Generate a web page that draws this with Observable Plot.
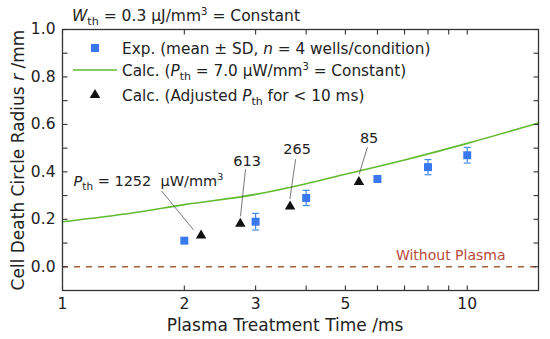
<!DOCTYPE html>
<html><head><meta charset="utf-8">
<script src="https://cdn.jsdelivr.net/npm/d3@7"></script>
<script src="https://cdn.jsdelivr.net/npm/@observablehq/plot@0.6"></script>
<style>
body{margin:0;background:#fff;}
#chart{width:550px;height:339px;}
</style></head><body><div id="chart"></div>
<script>
// ---- data ----
const expTime = [2, 3, 4, 6, 8, 10];
const expMean = [0.11, 0.19, 0.29, 0.37, 0.42, 0.47];
const expSD   = [0.008, 0.035, 0.032, 0.012, 0.032, 0.033];
const calcTime = [1, 1.5, 2, 3, 4, 5, 7, 10, 15];
const calcR    = [0.19, 0.228, 0.262, 0.305, 0.35, 0.39, 0.45, 0.52, 0.606];
const adjTime = [2.2, 2.75, 3.65, 5.4];
const adjR    = [0.132, 0.181, 0.254, 0.357];
const adjP    = ["1252", "613", "265", "85"];
const xTicks  = [1, 2, 3, 4, 5, 6, 7, 8, 9, 10];
const xLabels = [1, 2, 3, 5, 10];
const yTicks  = [0, 0.1, 0.2, 0.3, 0.4, 0.5, 0.6, 0.7, 0.8, 0.9, 1.0];
const yLabels = [0, 0.2, 0.4, 0.6, 0.8, 1.0];
const baselineLabel = "Without Plasma";

// ---- styles ----
const C = {exp: "#3a78f0", err: "#3d8de8", calc: "#62bb2e", tri: "#111", base: "#a8603a", baseText: "#b84b3c", frame: "#333", ink: "#222"};
const FONT = "DejaVu Sans";

const expData = expTime.map((t, i) => ({t, m: expMean[i], sd: expSD[i]}));
const calcData = calcTime.map((t, i) => ({t, r: calcR[i]}));
const adjData = adjTime.map((t, i) => ({t, r: adjR[i], p: adjP[i]}));

const cap = {draw(ctx) { ctx.moveTo(-3.5, 0); ctx.lineTo(3.5, 0); }};
const TL = 5;
const tickR = {draw(ctx) { ctx.moveTo(0, 0); ctx.lineTo(TL, 0); }};
const tickL = {draw(ctx) { ctx.moveTo(0, 0); ctx.lineTo(-TL, 0); }};
const tickU = {draw(ctx) { ctx.moveTo(0, 0); ctx.lineTo(0, -TL); }};
const tickD = {draw(ctx) { ctx.moveTo(0, 0); ctx.lineTo(0, TL); }};
const isLab = (arr, d) => arr.some(v => Math.abs(v - d) < 1e-9);

const plot = Plot.plot({
  width: 550, height: 339,
  marginLeft: 62, marginRight: 12, marginTop: 29, marginBottom: 49,
  style: {fontFamily: FONT, fontSize: "14px", color: C.ink, background: "white"},
  x: {type: "log", domain: [1, 15]},
  y: {domain: [-0.1, 1.0]},
  marks: [
    Plot.ruleY([0], {stroke: C.base, strokeWidth: 1.3, strokeDasharray: "6,6"}),
    Plot.text([{y: 0, s: baselineLabel}], {y: "y", text: "s", frameAnchor: "right", textAnchor: "end", dx: -33, dy: -11, fill: C.baseText, fontSize: 14}),
    Plot.line(calcData, {x: "t", y: "r", stroke: C.calc, strokeWidth: 1.6, curve: "monotone-x"}),
    Plot.ruleX(expData, {x: "t", y1: d => d.m - d.sd, y2: d => d.m + d.sd, stroke: C.err, strokeWidth: 1.2}),
    Plot.dot(expData, {x: "t", y: d => d.m + d.sd, symbol: cap, stroke: C.err, fill: "none", strokeWidth: 1.2}),
    Plot.dot(expData, {x: "t", y: d => d.m - d.sd, symbol: cap, stroke: C.err, fill: "none", strokeWidth: 1.2}),
    Plot.dot(expData, {x: "t", y: "m", symbol: "square", r: 4.5, fill: C.exp, stroke: "none"}),
    Plot.dot(adjData, {x: "t", y: "r", symbol: "triangle", r: 3.9, fill: C.tri, stroke: "none"}),
    Plot.frame({stroke: C.frame, strokeWidth: 1.3}),
    // inward ticks on all four sides
    Plot.dot(xTicks, {x: d => d, frameAnchor: "bottom", symbol: tickU, stroke: C.frame, strokeWidth: 1.1}),
    Plot.dot(xTicks, {x: d => d, frameAnchor: "top", symbol: tickD, stroke: C.frame, strokeWidth: 1.1}),
    Plot.dot(yTicks, {y: d => d, frameAnchor: "left", symbol: tickR, stroke: C.frame, strokeWidth: 1.1}),
    Plot.dot(yTicks, {y: d => d, frameAnchor: "right", symbol: tickL, stroke: C.frame, strokeWidth: 1.1}),
    // tick labels
    Plot.axisX(xTicks, {anchor: "bottom", tickSize: 0, tickPadding: 7, label: null, fontSize: 15.5, tickFormat: d => isLab(xLabels, d) ? String(d) : ""}),
    Plot.axisY(yTicks, {anchor: "left", tickSize: 0, tickPadding: 7, label: null, fontSize: 15.5, tickFormat: d => isLab(yLabels, d) ? d.toFixed(1) : ""})
  ]
});
document.getElementById("chart").appendChild(plot);

// ---- rich text overlay ----
const xs = plot.scale("x"), ys = plot.scale("y");
const svg = d3.select(plot);
const g = svg.append("g").attr("font-family", FONT).attr("fill", C.ink).attr("text-anchor", "start");

function rich(sel, parts, size) {
  const t = sel.append("text").attr("font-size", size).attr("text-anchor", "start");
  let shift = 0;
  for (const [s, kind] of parts) {
    const ts = t.append("tspan").text(s);
    let target = 0;
    if (kind === "sub") { target = 4; ts.attr("font-size", size * 0.72); }
    else if (kind === "sup") { target = -6; ts.attr("font-size", size * 0.65); }
    else if (kind === "i") { ts.attr("font-style", "italic"); }
    if (target !== shift) { ts.attr("dy", target - shift); shift = target; }
  }
  return t;
}

// title
rich(g, [["W", "i"], ["th", "sub"], [" = 0.3 \u03bcJ/mm"], ["3", "sup"], [" = Constant"]], 15.5).attr("x", 72).attr("y", 21);

// axis labels
rich(g, [["Plasma Treatment Time /ms"]], 17).attr("x", 285).attr("y", 331).attr("text-anchor", "middle");
rich(g, [["Cell Death Circle Radius "], ["r", "i"], [" /mm"]], 17).attr("text-anchor", "middle").attr("transform", "translate(24,160) rotate(-90)");

// legend
const lg = g.append("g");
lg.append("path").attr("d", d3.symbol(d3.symbolSquare, Math.PI * 4.5 * 4.5)()).attr("transform", "translate(95,48)").attr("fill", C.exp);
lg.append("line").attr("x1", 73).attr("x2", 117).attr("y1", 70).attr("y2", 70).attr("stroke", C.calc).attr("stroke-width", 1.6);
lg.append("path").attr("d", d3.symbol(d3.symbolTriangle, Math.PI * 3.9 * 3.9)()).attr("transform", "translate(95,95)").attr("fill", C.tri);
rich(lg, [["Exp. (mean \u00b1 SD, "], ["n", "i"], [" = 4 wells/condition)"]], 15.3).attr("x", 122).attr("y", 53.5);
rich(lg, [["Calc. ("], ["P", "i"], ["th", "sub"], [" = 7.0 \u03bcW/mm"], ["3", "sup"], [" = Constant)"]], 15.3).attr("x", 122).attr("y", 75.5);
rich(lg, [["Calc. (Adjusted "], ["P", "i"], ["th", "sub"], [" for < 10 ms)"]], 15.3).attr("x", 122).attr("y", 100.5);

// annotations (pixel offsets relative to each triangle)
const annot = [
  {text: [-127, -49], anchor: "start", from: [-39, -44], to: [-7, -5]},
  {text: [7.4, -57], anchor: "middle", from: [5.7, -54], to: [0.7, -7]},
  {text: [7.6, -51.7], anchor: "middle", from: [6, -46.7], to: [0.3, -7]},
  {text: [10.7, -39], anchor: "middle", from: [9, -34.3], to: [0.7, -7.3]}
];
adjData.forEach((d, i) => {
  const px = xs.apply(d.t), py = ys.apply(d.r), a = annot[i];
  g.append("line").attr("x1", px + a.from[0]).attr("y1", py + a.from[1]).attr("x2", px + a.to[0]).attr("y2", py + a.to[1]).attr("stroke", "#555").attr("stroke-width", 0.8);
  const parts = i === 0 ? [["P", "i"], ["th", "sub"], [" = " + d.p + "\u00a0 \u03bcW/mm"], ["3", "sup"]] : [[d.p]];
  rich(g, parts, i === 0 ? 14.5 : 14.5).attr("x", px + a.text[0]).attr("y", py + a.text[1]).attr("text-anchor", a.anchor);
});
</script></body></html>
